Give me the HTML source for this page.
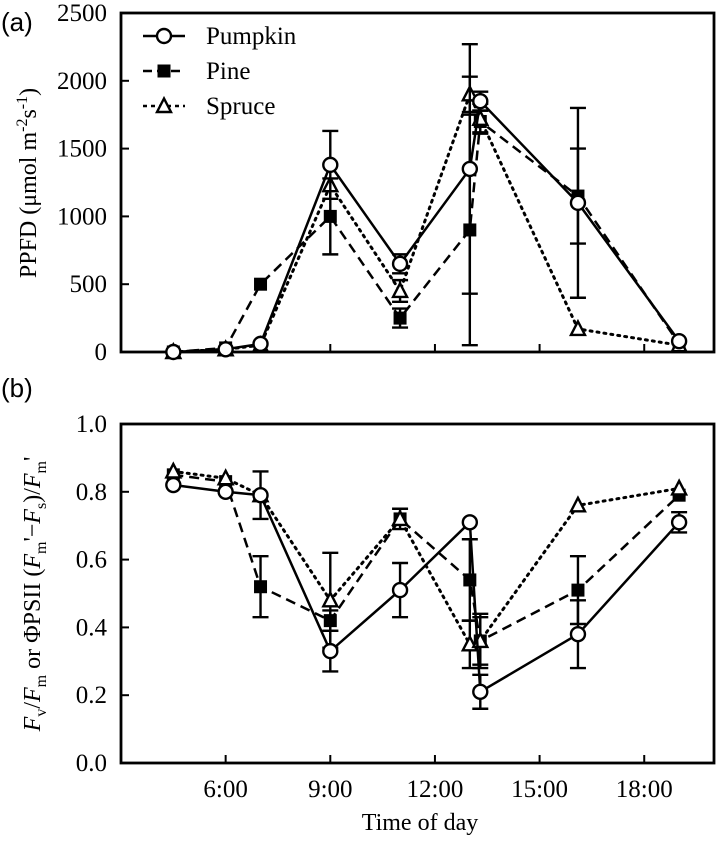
<!DOCTYPE html>
<html><head><meta charset="utf-8"><style>
html,body{margin:0;padding:0;background:#fff}
svg{display:block;font-family:"Liberation Serif",serif}
</style></head><body>
<svg id="c" width="720" height="842" viewBox="0 0 720 842">
<text x="1" y="31" font-family="Liberation Sans, sans-serif" font-size="26">(a)</text>
<text x="1" y="397" font-family="Liberation Sans, sans-serif" font-size="26">(b)</text>
<text transform="translate(36,183) rotate(-90)" text-anchor="middle" font-size="24">PPFD (μmol m<tspan dy="-9" font-size="16">-2</tspan><tspan dy="9">s</tspan><tspan dy="-9" font-size="16">-1</tspan><tspan dy="9">)</tspan></text>
<text transform="translate(40,594) rotate(-90)" text-anchor="middle" font-size="24"><tspan font-style="italic">F</tspan><tspan dy="6" font-size="16">v</tspan><tspan dy="-6">/</tspan><tspan font-style="italic">F</tspan><tspan dy="6" font-size="16">m</tspan><tspan dy="-6"> or ΦPSII (</tspan><tspan font-style="italic">F</tspan><tspan dy="6" font-size="16">m</tspan><tspan dy="-6">'−</tspan><tspan font-style="italic">F</tspan><tspan dy="6" font-size="16">s</tspan><tspan dy="-6">)/</tspan><tspan font-style="italic">F</tspan><tspan dy="6" font-size="16">m</tspan><tspan dy="-6">'</tspan></text>
<text x="420" y="830" text-anchor="middle" font-size="24">Time of day</text>
<g id="legend"></g>
</svg>
<script>
const times=[4.5,6,7,9,11,13,13.3,16.1,19];
const xTickVals=[6,9,12,15,18];
const xTickLabels=["6:00","9:00","12:00","15:00","18:00"];
const aTicks=[0,500,1000,1500,2000,2500];
const bTicks=[0,0.2,0.4,0.6,0.8,1.0];
const bTickLabels=["0.0","0.2","0.4","0.6","0.8","1.0"];
const aPumpkin=[0,20,60,1380,650,1350,1850,1100,80];
const aPumpkinErr=[0,0,0,250,70,920,70,700,0];
const aPine=[0,30,500,1000,250,900,1700,1150,60];
const aPineErr=[0,0,0,280,70,850,80,350,0];
const aSpruce=[0,20,50,1230,450,1900,1720,170,50];
const aSpruceErr=[0,0,0,0,80,130,110,0,0];
const bPumpkin=[0.82,0.80,0.79,0.33,0.51,0.71,0.21,0.38,0.71];
const bPumpkinErr=[0,0,0.07,0.06,0.08,0,0.05,0.10,0.03];
const bPine=[0.85,0.83,0.52,0.42,0.72,0.54,0.36,0.51,0.79];
const bPineErr=[0,0,0.09,0.03,0,0.12,0.07,0.10,0];
const bSpruce=[0.86,0.84,0.79,0.48,0.72,0.35,0.36,0.76,0.81];
const bSpruceErr=[0,0,0,0.14,0.03,0.07,0.08,0,0];
const NS="http://www.w3.org/2000/svg";
const svg=document.getElementById('c');
const X0=121,X1=714;
const x=t=>X0+(t-3)/(20-3)*(X1-X0);
const ya=v=>352-v/2500*339;
const yb=v=>763-v*339;
function el(tag,attrs,parent){const e=document.createElementNS(NS,tag);for(const k in attrs)e.setAttribute(k,attrs[k]);(parent||svg).appendChild(e);return e;}
const dash={pumpkin:"",pine:"10,6",spruce:"2,5"};
function panel(name,y,yTop,yBot,ticks,tickLabels,series,showX){
  const g=el('g',{});
  
  
  const fr=el('rect',{x:X0,y:yTop,width:X1-X0,height:yBot-yTop,fill:'none',stroke:'#000','stroke-width':2.8},g);
  
  
  ticks.forEach((v,i)=>{
    el('line',{x1:X0,x2:X0+8,y1:y(v),y2:y(v),stroke:'#000','stroke-width':2},g);
    const t=el('text',{x:X0-14,y:y(v)+8,'text-anchor':'end','font-size':25},g);
    
    
    t.textContent=tickLabels[i];
  });
  xTickVals.forEach((v,i)=>{
    el('line',{x1:x(v),x2:x(v),y1:yBot,y2:yBot-8,stroke:'#000','stroke-width':2},g);
    if(showX){const t=el('text',{x:x(v),y:yBot+34,'text-anchor':'middle','font-size':25},g);
      
      
      t.textContent=xTickLabels[i];}
  });
  series.forEach(s=>{
    const sg=el('g',{},g);
    
    
    s.vals.forEach((v,i)=>{ if(s.err[i]>0){
      const cx=x(times[i]),t=y(v+s.err[i]),b=y(Math.max(0,v-s.err[i]));
      el('line',{x1:cx,x2:cx,y1:t,y2:b,stroke:'#000','stroke-width':2.4},sg);
      el('line',{x1:cx-8,x2:cx+8,y1:t,y2:t,stroke:'#000','stroke-width':2.4},sg);
      el('line',{x1:cx-8,x2:cx+8,y1:b,y2:b,stroke:'#000','stroke-width':2.4},sg);}});
    const pts=s.vals.map((v,i)=>x(times[i])+','+y(v)).join(' ');
    el('polyline',{points:pts,fill:'none',stroke:'#000','stroke-width':s.name==='spruce'?3:2.5,'stroke-dasharray':dash[s.name],'stroke-linecap':s.name==='spruce'?'round':'butt'},sg);
    s.vals.forEach((v,i)=>marker(s.name,x(times[i]),y(v),sg));
  });
}
function marker(n,cx,cy,p){
  let m;
  if(n==='pumpkin')m=el('circle',{cx:cx,cy:cy,r:7,fill:'#fff',stroke:'#000','stroke-width':2.4},p);
  else if(n==='pine')m=el('rect',{x:cx-6.5,y:cy-6.5,width:13,height:13,fill:'#000'},p);
  else m=el('polygon',{points:`${cx},${cy-7.5} ${cx-7},${cy+6} ${cx+7},${cy+6}`,fill:'#fff',stroke:'#000','stroke-width':2.4},p);
  
  
}
panel('panel-a',ya,13,352,aTicks,aTicks.map(String),[
 {name:'pine',vals:aPine,err:aPineErr},{name:'spruce',vals:aSpruce,err:aSpruceErr},{name:'pumpkin',vals:aPumpkin,err:aPumpkinErr}],false);
panel('panel-b',yb,424,763,bTicks,bTickLabels,[
 {name:'pine',vals:bPine,err:bPineErr},{name:'spruce',vals:bSpruce,err:bSpruceErr},{name:'pumpkin',vals:bPumpkin,err:bPumpkinErr}],true);
const lg=document.getElementById('legend');
[['pumpkin','Pumpkin',36],['pine','Pine',71],['spruce','Spruce',106]].forEach(([n,l,yy])=>{
  const e=el('g',{},lg);
  
  
  el('line',{x1:143,x2:185,y1:yy,y2:yy,stroke:'#000','stroke-width':2.6,'stroke-dasharray':n==='pine'?'9,5':(n==='spruce'?'4,4':'')},e);
  marker(n,164,yy,e);
  const t=el('text',{x:206,y:yy+8,'font-size':25},e);
  
  
  t.textContent=l;
});
</script>
</body></html>
